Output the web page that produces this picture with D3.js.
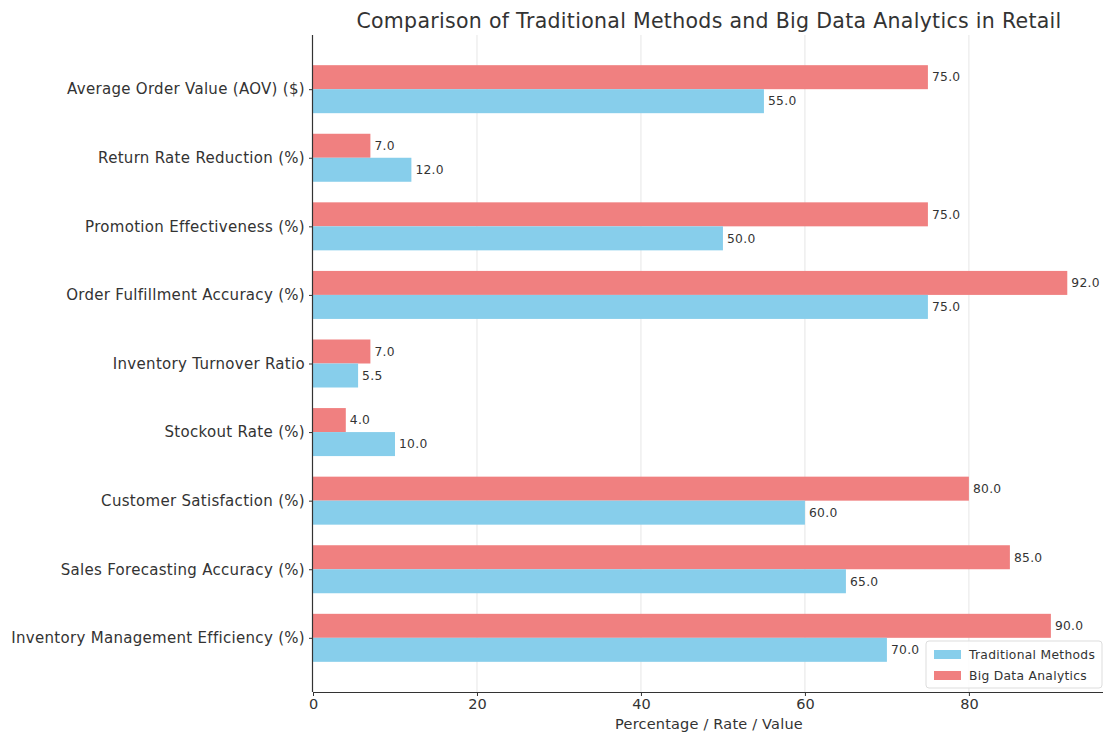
<!DOCTYPE html>
<html>
<head>
<meta charset="utf-8">
<script src="https://cdn.jsdelivr.net/npm/d3@7"></script>
<style>
  html, body { margin: 0; padding: 0; background: #fff; }
  svg { display: block; font-family: "DejaVu Sans", sans-serif; }
</style>
</head>
<body>
<svg id="chart" width="1103" height="735"></svg>
<script>
// Metrics listed bottom to top (index 0 sits at the bottom of the axis)
const categories = [
  "Inventory Management Efficiency (%)",
  "Sales Forecasting Accuracy (%)",
  "Customer Satisfaction (%)",
  "Stockout Rate (%)",
  "Inventory Turnover Ratio",
  "Order Fulfillment Accuracy (%)",
  "Promotion Effectiveness (%)",
  "Return Rate Reduction (%)",
  "Average Order Value (AOV) ($)"
];
const traditionalValues = [70, 65, 60, 10, 5.5, 75, 50, 12, 55];
const bigDataValues = [90, 85, 80, 4, 7, 92, 75, 7, 75];
const xTicks = [0, 20, 40, 60, 80];
const seriesNames = ["Traditional Methods", "Big Data Analytics"];

const colors = { trad: "#87CEEB", big: "#F08080" };
const barH = 0.35;

const svg = d3.select("#chart");
const plot = { left: 313, right: 1105, top: 35, bottom: 692 };

const x = d3.scaleLinear().domain([0, 96.6]).range([plot.left, plot.right]);
const y = d3.scaleLinear().domain([-0.79, 8.79]).range([plot.bottom, plot.top]);

// Title
svg.append("text")
  .attr("x", 709).attr("y", 28)
  .attr("text-anchor", "middle")
  .attr("font-size", 20.5)
  .attr("letter-spacing", 0.3)
  .attr("fill", "#333")
  .text("Comparison of Traditional Methods and Big Data Analytics in Retail");

// Vertical grid
svg.append("g").selectAll("line").data(xTicks.slice(1)).join("line")
  .attr("x1", d => x(d)).attr("x2", d => x(d))
  .attr("y1", plot.top).attr("y2", plot.bottom)
  .attr("stroke", "#e6e6e6").attr("stroke-width", 1);

const idx = d3.range(categories.length);

// Big Data bars (upper half of each slot)
svg.append("g").selectAll("rect").data(idx).join("rect")
  .attr("x", x(0))
  .attr("y", i => y(i + barH))
  .attr("width", i => x(bigDataValues[i]) - x(0))
  .attr("height", i => y(i) - y(i + barH))
  .attr("fill", colors.big);

// Traditional bars (lower half)
svg.append("g").selectAll("rect").data(idx).join("rect")
  .attr("x", x(0))
  .attr("y", i => y(i))
  .attr("width", i => x(traditionalValues[i]) - x(0))
  .attr("height", i => y(i - barH) - y(i))
  .attr("fill", colors.trad);

// Value labels
const labels = svg.append("g").attr("font-size", 12.3).attr("letter-spacing", 0.3).attr("fill", "#333");
labels.selectAll("text.big").data(idx).join("text")
  .attr("class", "big")
  .attr("x", i => x(bigDataValues[i]) + 4)
  .attr("y", i => y(i + barH / 2))
  .attr("dy", "0.35em")
  .text(i => bigDataValues[i].toFixed(1));
labels.selectAll("text.trad").data(idx).join("text")
  .attr("class", "trad")
  .attr("x", i => x(traditionalValues[i]) + 4)
  .attr("y", i => y(i - barH / 2))
  .attr("dy", "0.35em")
  .text(i => traditionalValues[i].toFixed(1));

// X axis
const xAxis = svg.append("g")
  .attr("transform", `translate(0,${plot.bottom})`)
  .call(d3.axisBottom(x).tickValues(xTicks).tickSize(4).tickPadding(3));
xAxis.select(".domain").attr("stroke", "#333").attr("stroke-width", 1.2).attr("d", `M${plot.left},0.5H${plot.right}`);
xAxis.selectAll(".tick line").attr("stroke", "#333");
xAxis.selectAll(".tick text").attr("font-size", 14.5).attr("fill", "#333")
  .attr("font-family", "DejaVu Sans, sans-serif");

// Y axis
const yAxis = svg.append("g")
  .attr("transform", `translate(${plot.left},0)`)
  .call(d3.axisLeft(y).tickValues(idx).tickFormat(i => categories[i]).tickSize(4).tickPadding(4));
yAxis.select(".domain").attr("stroke", "#333").attr("stroke-width", 1.2).attr("d", `M-0.5,${plot.top}V${plot.bottom}`);
yAxis.selectAll(".tick line").attr("stroke", "#333");
yAxis.selectAll(".tick text").attr("font-size", 15).attr("letter-spacing", 0.3).attr("fill", "#333")
  .attr("font-family", "DejaVu Sans, sans-serif");

// X axis label
svg.append("text")
  .attr("x", 709).attr("y", 729)
  .attr("text-anchor", "middle")
  .attr("font-size", 14.5).attr("letter-spacing", 0.2).attr("fill", "#333")
  .text("Percentage / Rate / Value");

// Legend
const lg = svg.append("g").attr("transform", "translate(926,641)");
lg.append("rect").attr("width", 176).attr("height", 47).attr("rx", 3)
  .attr("fill", "#fff").attr("fill-opacity", 0.85).attr("stroke", "#ddd");
[colors.trad, colors.big].forEach((c, k) => {
  lg.append("rect").attr("x", 8).attr("y", 9 + k * 21).attr("width", 27).attr("height", 9).attr("fill", c);
  lg.append("text").attr("x", 43).attr("y", 14 + k * 21).attr("dy", "0.35em")
    .attr("font-size", 12.3).attr("letter-spacing", 0.3).attr("fill", "#333").text(seriesNames[k]);
});
</script>
</body>
</html>
